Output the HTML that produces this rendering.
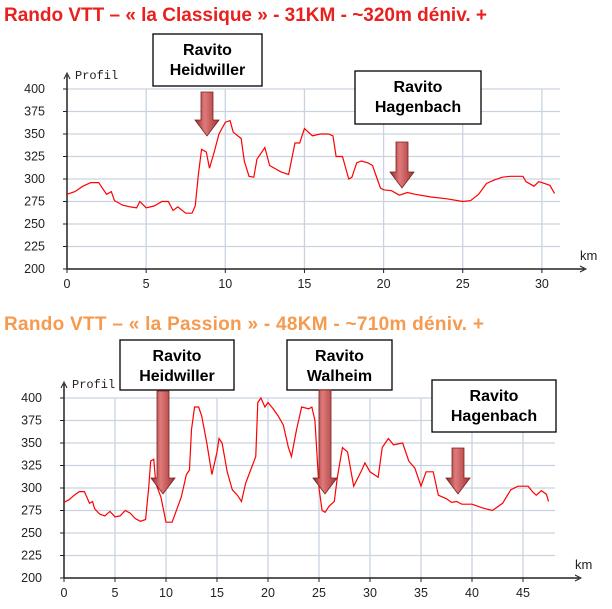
<!DOCTYPE html>
<html><head><meta charset="utf-8"><style>
body{margin:0;background:#fff;width:612px;height:609px;overflow:hidden;font-family:"Liberation Sans",sans-serif}
svg{position:absolute;left:0;top:0}
</style></head><body>
<svg id="s" width="612" height="609">
<defs><linearGradient id="ag" x1="0" x2="1"><stop offset="0" stop-color="#8e2a2a"/><stop offset="0.4" stop-color="#e07a7a"/><stop offset="1" stop-color="#a03535"/></linearGradient></defs>
<text x="4" y="21" font-size="19" font-weight="bold" fill="#e8201e" textLength="483">Rando VTT – « la Classique » - 31KM - ~320m déniv. +</text>
<text x="4" y="330" font-size="19" font-weight="bold" fill="#f59a4e" textLength="480">Rando VTT – « la Passion » - 48KM - ~710m déniv. +</text>
</svg>
<script>
const c1Km=[0,0.5,1,1.5,2,2.5,2.8,3,3.5,4,4.4,4.6,5,5.5,6,6.4,6.7,7,7.5,7.9,8.1,8.3,8.5,8.8,9,9.3,9.6,10,10.3,10.5,11,11.2,11.5,11.8,12,12.5,12.8,13.5,14,14.4,14.7,15,15.5,16,16.5,16.8,17,17.4,17.8,18,18.3,18.6,19,19.3,19.6,19.8,20,20.5,21,21.5,22,23,24,25,25.5,26,26.5,27,27.5,28,28.8,29,29.5,29.8,30,30.5,30.8];
const c1Elev=[283,286,292,296,296,283,286,276,271,269,268,275,268,270,275,275,265,269,262,262,270,305,333,330,312,330,350,363,365,352,345,320,303,302,322,335,315,308,305,340,340,356,348,350,350,348,325,325,300,302,318,320,318,315,300,290,288,287,282,285,283,280,278,275,276,283,295,299,302,303,303,297,292,297,296,293,284];
const c2Km=[0,0.5,1,1.5,2,2.5,2.8,3,3.5,4,4.5,5,5.5,6,6.5,7,7.5,8,8.3,8.5,8.8,9,9.5,10,10.6,11.5,12,12.3,12.5,12.8,13.2,13.5,14,14.5,15,15.2,15.5,16,16.5,17,17.4,17.8,18.3,18.8,19,19.3,19.7,20,20.5,21,21.5,22,22.3,22.8,23.3,24,24.3,24.6,25,25.3,25.6,26,26.5,26.8,27.3,27.8,28.4,29.2,29.5,30,30.8,31.2,31.8,32.3,33.2,33.8,34.4,35,35.5,36.2,36.7,37.5,38,38.5,39,40,41,42,43,43.8,44.5,45.5,46,46.3,46.8,47.3,47.5];
const c2Elev=[284,287,292,296,296,283,285,277,271,269,274,268,269,275,272,266,263,265,300,330,332,305,290,262,262,290,315,320,365,390,390,380,350,315,340,355,350,318,298,292,285,305,320,335,395,400,390,395,388,380,370,345,335,365,390,388,390,375,300,275,273,280,285,312,345,340,302,320,328,318,312,345,355,348,350,330,322,302,318,318,292,288,284,285,282,282,278,275,283,298,302,302,295,292,297,293,285];
const yTicks=[200,225,250,275,300,325,350,375,400];
const NS='http://www.w3.org/2000/svg';
const svg=document.getElementById('s');
function el(t,a,p){const e=document.createElementNS(NS,t);for(const k in a)e.setAttribute(k,a[k]);(p||svg).appendChild(e);return e;}
function chart(id,x0,xR,kmStep,kmEnd,yTop,yBot,xTicks,kms,elev){
  const g=el('g',{});
  
  
  const X=k=>x0+k*kmStep, Y=v=>yBot-(v-200)/200*(yBot-yTop);
  yTicks.forEach(v=>{
    if(v>200){const l=el('line',{x1:x0,x2:xR,y1:Y(v),y2:Y(v),stroke:'#c9d3e0','stroke-width':1.3},g);}
    el('line',{x1:x0-4,x2:x0,y1:Y(v),y2:Y(v),stroke:'#222'},g);
    const t=el('text',{x:x0-22,y:Y(v)+4,'font-size':12.5,'text-anchor':'end',fill:'#222'},g);t.textContent=v;
    
    
  });
  xTicks.forEach(k=>{
    if(k>0){const l=el('line',{x1:X(k),x2:X(k),y1:yTop,y2:yBot,stroke:'#c9d3e0','stroke-width':1.3},g);}
    el('line',{x1:X(k),x2:X(k),y1:yBot,y2:yBot+4,stroke:'#222'},g);
    const t=el('text',{x:X(k),y:yBot+19,'font-size':12.5,'text-anchor':'middle',fill:'#222'},g);t.textContent=k;
    
    
  });
  el('line',{x1:x0,x2:x0,y1:yBot,y2:yTop-14,stroke:'#222','stroke-width':1.5},g);
  el('path',{d:`M${x0-3},${yTop-10}L${x0},${yTop-16}L${x0+3},${yTop-10}`,fill:'none',stroke:'#222'},g);
  el('line',{x1:x0,x2:xR+24,y1:yBot,y2:yBot,stroke:'#222','stroke-width':1.5},g);
  el('path',{d:`M${xR+20},${yBot-3}L${xR+26},${yBot}L${xR+20},${yBot+3}`,fill:'none',stroke:'#222'},g);
  const p=el('text',{x:x0+8,y:yTop-10,'font-size':12,fill:'#222','font-family':'Liberation Mono'},g);p.textContent='Profil';
  
  const km=el('text',{x:xR+20,y:yBot-9,'font-size':13,fill:'#222'},g);km.textContent='km';
  
  const line=el('polyline',{points:kms.map((k,i)=>X(k)+','+Y(elev[i])).join(' '),fill:'none',stroke:'#f00','stroke-width':1.2},g);
  
  
}
chart('chart-classique',67,560,15.83,30.8,89,269,[0,5,10,15,20,25,30],c1Km,c1Elev);
chart('chart-passion',64,555,10.2,47.5,398,578,[0,5,10,15,20,25,30,35,40,45],c2Km,c2Elev);
function box(name,x,y,w,h,l1,l2){
  const g=el('g',{});
  
  
  el('rect',{x:x,y:y,width:w,height:h,fill:'#fff',stroke:'#000','stroke-width':1.3},g);
  [l1,l2].forEach((s,i)=>{const t=el('text',{x:x+w/2,y:y+21+i*20,'font-size':16,'font-weight':'bold','text-anchor':'middle',fill:'#000'},g);t.textContent=s;});
}
function arrow(name,cx,y1,y2){
  const a=el('path',{d:`M${cx-6},${y1}H${cx+6}V${y2-16}H${cx+12}L${cx},${y2}L${cx-12},${y2-16}H${cx-6}Z`,fill:'url(#ag)',stroke:'#7a2020','stroke-width':0.8});
  
  
}
box('ravito-heidwiller-label-1',153,34,109,52,'Ravito','Heidwiller');
arrow('ravito-heidwiller-arrow-1',207,92,136);
box('ravito-hagenbach-label-1',355,71,126,53,'Ravito','Hagenbach');
arrow('ravito-hagenbach-arrow-1',402,142,188);
box('ravito-heidwiller-label-2',120,340,114,50,'Ravito','Heidwiller');
arrow('ravito-heidwiller-arrow-2',163,391,494);
box('ravito-walheim-label-2',287,340,105,50,'Ravito','Walheim');
arrow('ravito-walheim-arrow-2',325,390,494);
box('ravito-hagenbach-label-2',432,380,124,52,'Ravito','Hagenbach');
arrow('ravito-hagenbach-arrow-2',458,448,494);
</script>
</body></html>
